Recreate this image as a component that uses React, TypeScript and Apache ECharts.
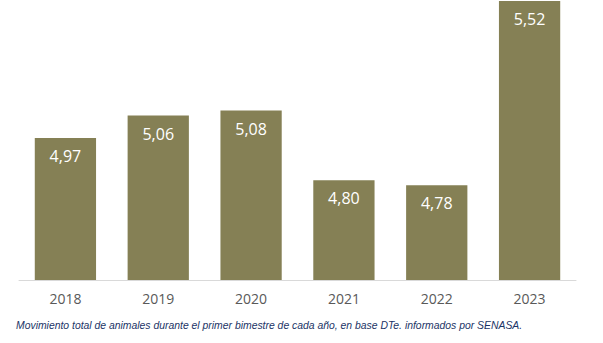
import React, { useEffect, useRef } from "react";
import * as echarts from "echarts";

const years = ["2018", "2019", "2020", "2021", "2022", "2023"];
const values = [4.97, 5.06, 5.08, 4.8, 4.78, 5.52];
const footnote =
  "Movimiento total de animales durante el primer bimestre de cada año, en base DTe. informados por SENASA.";

export default function App() {
  const ref = useRef<HTMLDivElement>(null);
  useEffect(() => {
    document.body.style.margin = "0";
    const chart = echarts.init(ref.current!, null, { renderer: "svg" });
    chart.setOption({
      animation: false,
      backgroundColor: "#ffffff",
      grid: { left: 19, right: 27, top: 1, bottom: 63, containLabel: false },
      xAxis: {
        type: "category",
        data: years,
        axisLine: { lineStyle: { color: "#d9d9d9", width: 1 } },
        axisTick: { show: false },
        axisLabel: {
          color: "#595959",
          fontSize: 14,
          fontFamily: "Open Sans",
          margin: 11,
        },
      },
      yAxis: {
        type: "value",
        min: 4.4,
        max: 5.52,
        show: false,
        splitLine: { show: false },
      },
      series: [
        {
          type: "bar",
          data: values,
          barWidth: "66%",
          itemStyle: { color: "#858055" },
          label: {
            show: true,
            position: "insideTop",
            distance: 10,
            color: "#ffffff",
            fontSize: 16,
            fontFamily: "Open Sans",
            formatter: (p: any) => p.value.toFixed(2).replace(".", ","),
          },
        },
      ],
      graphic: [
        {
          type: "text",
          left: 16,
          top: 320,
          style: {
            text: footnote,
            fill: "#1b3466",
            fontSize: 10.4,
            fontStyle: "italic",
            fontFamily: "Liberation Sans",
          },
        },
      ],
    });
    return () => chart.dispose();
  }, []);
  return (
    <div
      ref={ref}
      style={{ width: 603, height: 343, position: "absolute", left: 0, top: 0 }}
    />
  );
}
